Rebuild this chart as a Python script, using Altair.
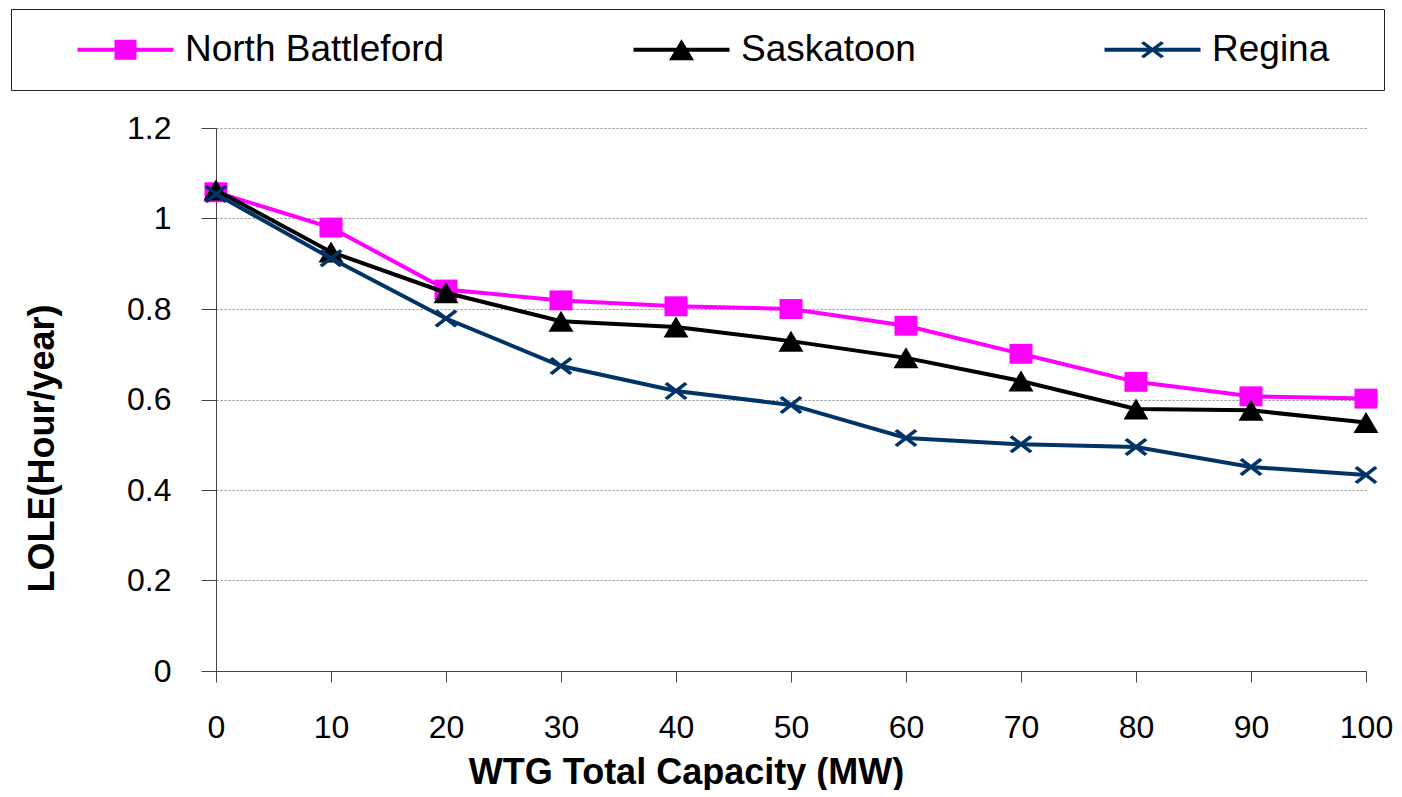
import altair as alt
import pandas as pd

# ---------------- data ----------------
capacity = [0, 10, 20, 30, 40, 50, 60, 70, 80, 90, 100]
north_battleford = [1.058, 0.980, 0.843, 0.819, 0.806, 0.800, 0.763, 0.701, 0.639, 0.607, 0.602]
saskatoon = [1.063, 0.926, 0.836, 0.773, 0.760, 0.729, 0.692, 0.641, 0.579, 0.576, 0.549]
regina = [1.054, 0.912, 0.779, 0.674, 0.619, 0.588, 0.515, 0.501, 0.495, 0.451, 0.433]

series_names = ["North Battleford", "Saskatoon", "Regina"]
series_values = [north_battleford, saskatoon, regina]
series_colors = ["#FF00FF", "#000000", "#003366"]

y_ticks = [0, 0.2, 0.4, 0.6, 0.8, 1.0, 1.2]
x_ticks = capacity

rows = []
for name, vals in zip(series_names, series_values):
    for c, v in zip(capacity, vals):
        rows.append({"capacity": c, "lole": v, "series": name})
df = pd.DataFrame(rows)


# ---------------- marker shapes ----------------
def x_poly(e, k, sy=1.0):
    pts = [(2 * k, 0), (e + k, e - k), (e - k, e + k), (0, 2 * k),
           (-e + k, e + k), (-e - k, e - k), (-2 * k, 0), (-e - k, -e + k),
           (-e + k, -e - k), (0, -2 * k), (e - k, -e - k), (e + k, -e + k)]
    return "M" + "L".join(f"{x:.4f},{y * sy:.4f}" for x, y in pts) + "Z"


# chart markers (unit = 12px, size 576)
chart_shapes = [
    "M-0.96,-0.83H0.96V0.83H-0.96Z",
    "M0,-0.875L1.04,0.875L-1.04,0.875Z",
    x_poly(0.842, 0.118, 0.78),
]

# legend symbols: line segment + marker (unit = 18px, size 1296)
leg_line = "M-2.667,-0.111H2.667V0.111H-2.667Z"
legend_shapes = [
    leg_line + "M-0.611,-0.556H0.611V0.556H-0.611Z",
    leg_line + "M0,-0.583L0.694,0.583L-0.694,0.583Z",
    # last entry: extra move-to widens the legend frame on the right
    leg_line + x_poly(0.560, 0.0786, 0.74) + "M11.6,0",
]

FONT = "Liberation Sans"

x_enc = alt.X(
    "capacity:Q",
    scale=alt.Scale(domain=[0, 100], nice=False, zero=False),
    axis=alt.Axis(
        values=x_ticks, title="WTG Total Capacity (MW)", grid=False,
        labelFont=FONT, labelFontSize=32, labelColor="black", labelPadding=30,
        tickSize=11, tickColor="#444444", domainColor="#444444",
        titleFont=FONT, titleFontSize=36, titleFontWeight="bold", titleColor="black",
        titleX=470, titleY=112, titleAlign="center", titleBaseline="alphabetic",
        labelFlush=False,
    ),
)
y_enc = alt.Y(
    "lole:Q",
    scale=alt.Scale(domain=[0, 1.2], nice=False),
    axis=alt.Axis(
        values=y_ticks, format="~g", title="LOLE(Hour/year)", grid=True,
        gridColor="#888888", gridDash=[2, 2], gridWidth=1,
        labelFont=FONT, labelFontSize=32, labelColor="black", labelPadding=30,
        tickSize=15, tickColor="#444444", domainColor="#444444",
        titleFont=FONT, titleFontSize=36, titleFontWeight="bold", titleColor="black",
        titleX=-163, titleY=320, titleAngle=270, titleAlign="center",
        titleBaseline="alphabetic",
    ),
)

layers = []
for name, col, shp in zip(series_names, series_colors, chart_shapes):
    base = alt.Chart(df).transform_filter(alt.datum.series == name)
    layers.append(base.mark_line(color=col, strokeWidth=4).encode(x=x_enc, y=y_enc))
    layers.append(
        base.mark_point(filled=True, shape=shp, size=576, color=col, opacity=1, strokeWidth=0)
        .encode(x=x_enc, y=y_enc)
    )

nb = "\u00a0"
legend = alt.Legend(
    orient="none", legendX=-205, legendY=-119, direction="horizontal",
    title=nb, titleOrient="left", titleFontSize=1, titlePadding=74,
    symbolSize=1296, symbolStrokeWidth=0, symbolOpacity=1,
    labelFont=FONT, labelFontSize=37, labelColor="black", labelOffset=41,
    labelLimit=1000,
    columnPadding=188, padding=22, strokeColor="#222222", fillColor="white",
)

legend_layer = alt.Chart(df).mark_point(filled=True, opacity=0, size=10).encode(
    x=x_enc, y=y_enc,
    color=alt.Color("series:N", scale=alt.Scale(domain=series_names, range=series_colors), legend=legend),
    shape=alt.Shape("series:N", scale=alt.Scale(domain=series_names, range=legend_shapes), legend=legend),
)
layers.append(legend_layer)

chart = (
    alt.layer(*layers)
    .properties(width=1150, height=543, padding={"left": 2, "top": 0, "right": 0, "bottom": 0},
                background="white")
    .configure_view(stroke=None)
)

chart.save("out.html", embed_options={"renderer": "svg", "actions": False})
